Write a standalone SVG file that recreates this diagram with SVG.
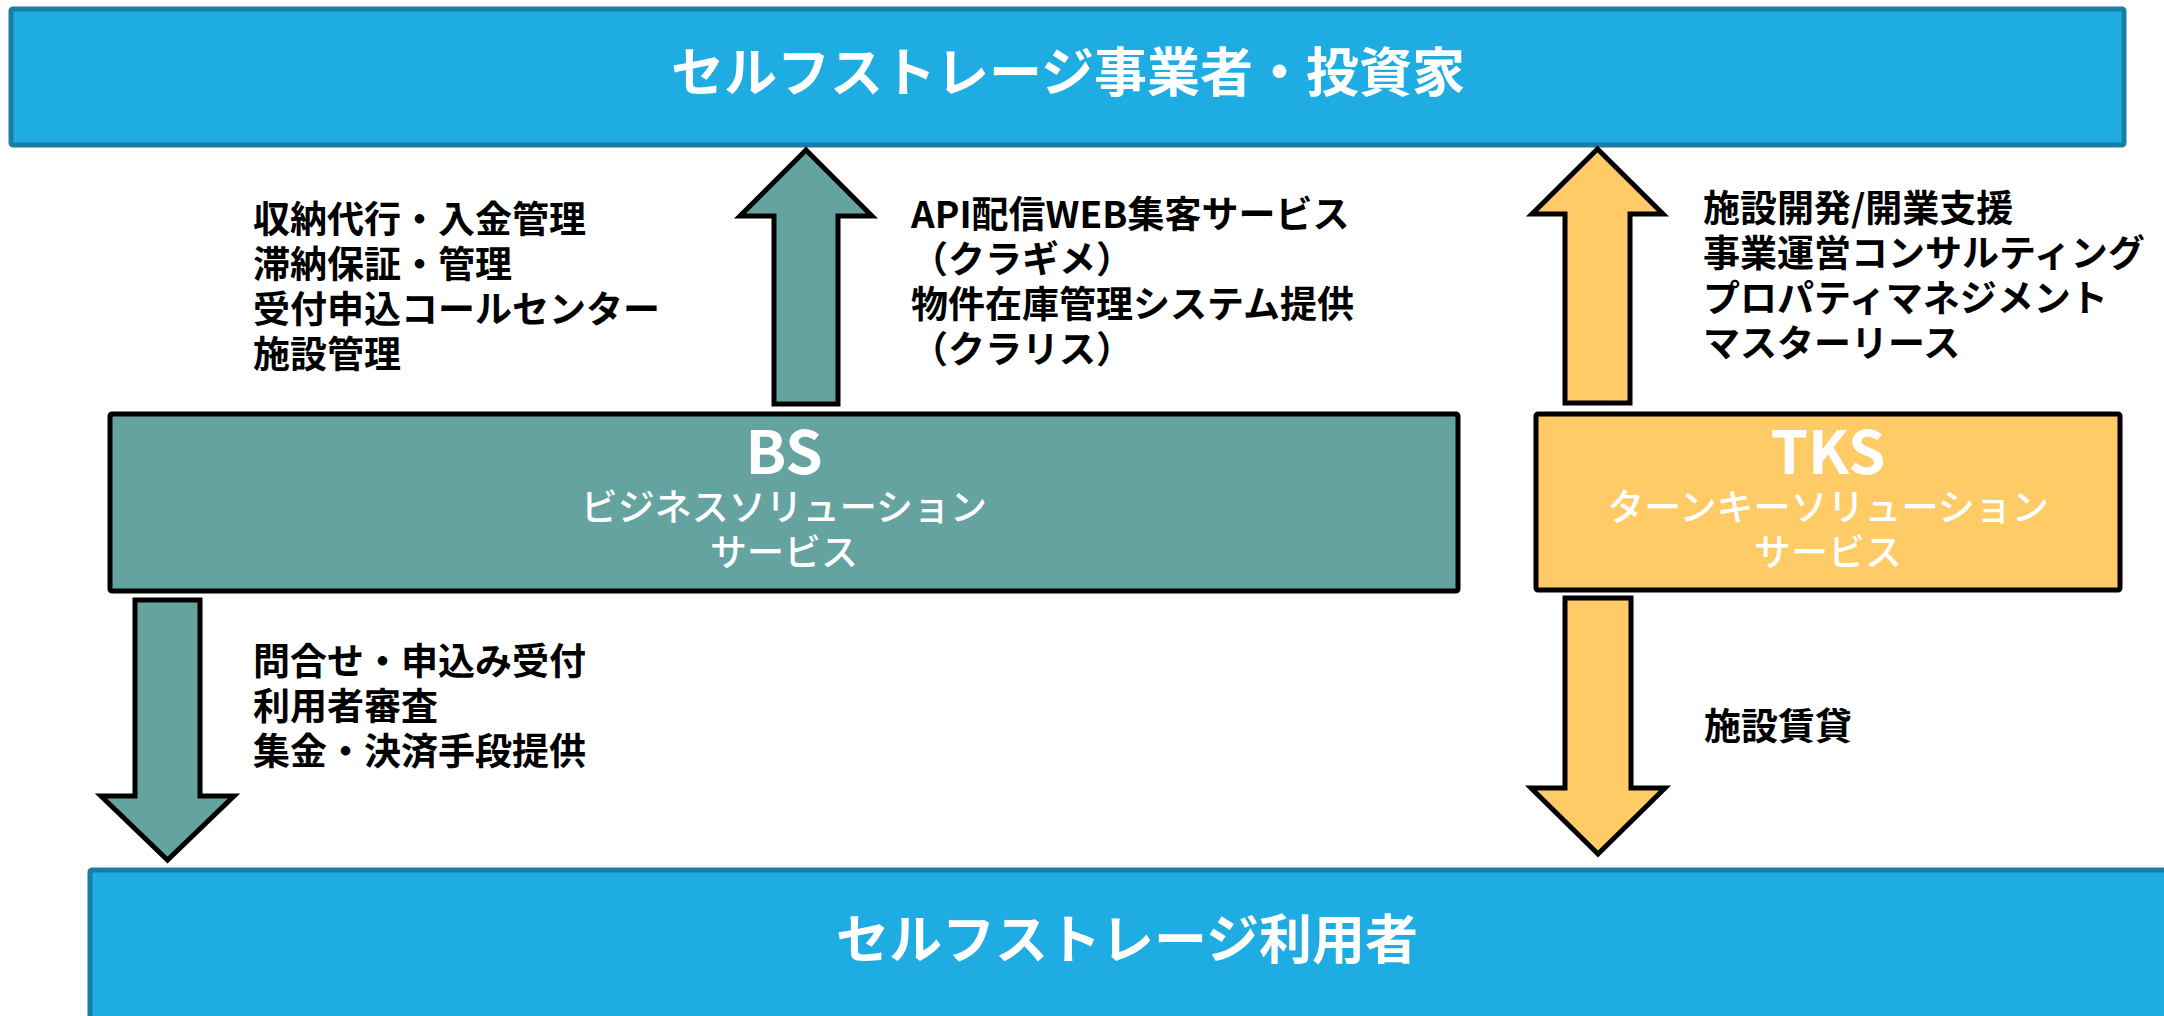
<svg xmlns="http://www.w3.org/2000/svg" width="2164" height="1016" viewBox="0 0 2164 1016">
<style>
.jp{font-family:"Noto Sans CJK JP","Noto Sans",sans-serif}
.box{fill:#1FACE3;stroke:#197EA6;stroke-width:5}
.bs{fill:#64A3A0;stroke:#000;stroke-width:5}
.tks{fill:#FECB66;stroke:#000;stroke-width:5}
.title{font-size:53px;font-weight:bold;fill:#fff;text-anchor:middle}
.node{fill:#fff;text-anchor:middle}
.abbr{font-size:60px;font-weight:bold}
.sub{font-size:37px;font-weight:500}
.lbl{font-size:37px;font-weight:bold;fill:#000}
.arrow{stroke:#000;stroke-width:5;stroke-linejoin:miter}
</style>
<rect width="2164" height="1016" fill="#fff"/>
<g id="investors">
<rect class="box" x="11" y="9" width="2113" height="136" rx="2"/>
<text class="jp title" x="1068" y="92">セルフストレージ事業者・投資家</text>
</g>
<g id="users">
<rect class="box" x="90" y="870" width="2110" height="200" rx="2"/>
<text class="jp title" x="1127" y="959">セルフストレージ利用者</text>
</g>
<g id="bs">
<rect class="bs" x="110" y="414" width="1348" height="177" rx="2"/>
<text class="jp node"><tspan class="abbr" x="784" y="474">BS</tspan><tspan class="sub" x="784" y="521">ビジネスソリューション</tspan><tspan class="sub" x="784" y="566">サービス</tspan></text>
</g>
<g id="tks">
<rect class="tks" x="1536" y="414" width="584" height="176" rx="2"/>
<text class="jp node"><tspan class="abbr" x="1828" y="474">TKS</tspan><tspan class="sub" x="1828" y="521">ターンキーソリューション</tspan><tspan class="sub" x="1828" y="566">サービス</tspan></text>
</g>
<g id="connectors">
<path class="arrow" fill="#64A3A0" d="M806,150 L872,216 L838,216 L838,404 L774,404 L774,216 L740,216 Z"/>
<path class="arrow" fill="#64A3A0" d="M135,600 L200,600 L200,796 L234,796 L167.5,860 L101,796 L135,796 Z"/>
<path class="arrow" fill="#FECB66" d="M1597.5,149 L1663,214 L1630,214 L1630,403 L1565,403 L1565,214 L1532,214 Z"/>
<path class="arrow" fill="#FECB66" d="M1565,598 L1631,598 L1631,788 L1665,788 L1598,854 L1531,788 L1565,788 Z"/>
</g>
<g id="labels">
<text class="jp lbl"><tspan x="253" y="233">収納代行・入金管理</tspan><tspan x="253" y="278">滞納保証・管理</tspan><tspan x="253" y="323">受付申込コールセンター</tspan><tspan x="253" y="368">施設管理</tspan></text>
<text class="jp lbl"><tspan x="911" y="228">API配信WEB集客サービス</tspan><tspan x="911" y="273">（クラギメ）</tspan><tspan x="911" y="318">物件在庫管理システム提供</tspan><tspan x="911" y="363">（クラリス）</tspan></text>
<text class="jp lbl"><tspan x="1703" y="222">施設開発/開業支援</tspan><tspan x="1703" y="267">事業運営コンサルティング</tspan><tspan x="1703" y="312">プロパティマネジメント</tspan><tspan x="1703" y="357">マスターリース</tspan></text>
<text class="jp lbl"><tspan x="253" y="675">問合せ・申込み受付</tspan><tspan x="253" y="720">利用者審査</tspan><tspan x="253" y="765">集金・決済手段提供</tspan></text>
<text class="jp lbl" x="1704" y="740">施設賃貸</text>
</g>
</svg>
